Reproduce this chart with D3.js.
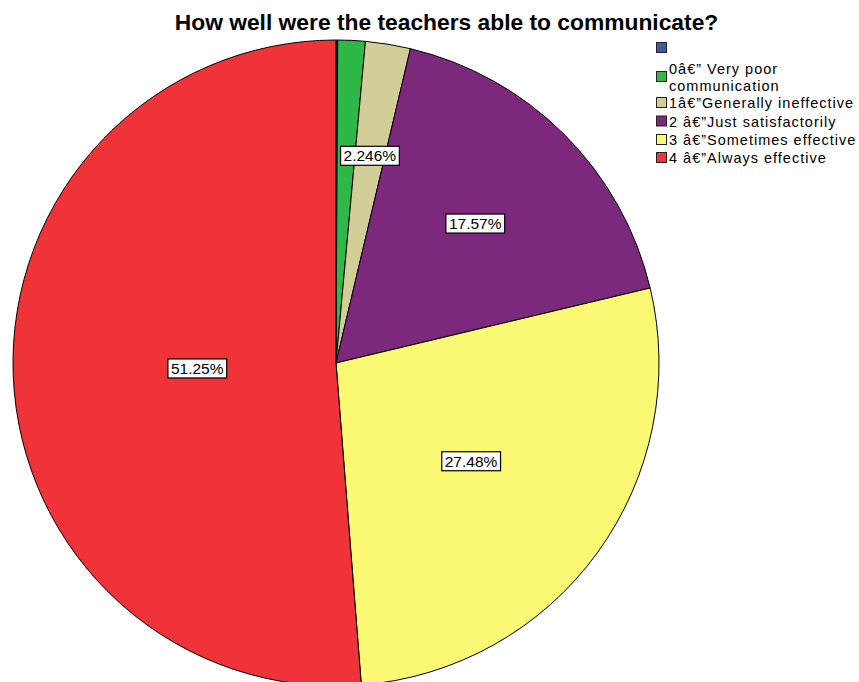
<!DOCTYPE html>
<html><head><meta charset="utf-8">
<script src="https://cdn.jsdelivr.net/npm/d3@7"></script>
<style>body{margin:0;background:#fff;} svg{display:block;}</style>
</head><body>
<script>
const categories = ["", "0â€\u201D Very poor communication", "1â€\u201DGenerally ineffective", "2 â€\u201DJust satisfactorily", "3 â€\u201DSometimes effective", "4 â€\u201DAlways effective"];
const percents = [0.084, 1.37, 2.246, 17.57, 27.48, 51.25];
const shownLabels = ["", "", "2.246%", "17.57%", "27.48%", "51.25%"];
const colors = ["#3E58AC", "#2EB848", "#D3CE97", "#7C287D", "#FBF873", "#EF3338"];
const title = "How well were the teachers able to communicate?";

const W = 859, H = 682;
const cx = 336, cy = 363, R = 323;
const labelRadiusFactor = [0, 0, 0.65, 0.61, 0.517, 0.43];
const FONT = "Liberation Sans, Arial, sans-serif";

const svg = d3.select("body").append("svg").attr("width", W).attr("height", H);

svg.append("text").attr("x", 446.5).attr("y", 30).attr("text-anchor", "middle")
  .attr("font-family", FONT).attr("font-weight", "bold")
  .attr("font-size", 22.8).attr("fill", "#000").text(title);

const pie = d3.pie().sort(null).value(d => d)(percents);
const arc = d3.arc().innerRadius(0).outerRadius(R);
const g = svg.append("g").attr("transform", `translate(${cx},${cy})`);
g.selectAll("path").data(pie).enter().append("path")
  .attr("d", arc).attr("fill", (d, i) => colors[i])
  .attr("stroke", "#000").attr("stroke-width", 1).attr("stroke-linejoin", "round");

pie.forEach((d, i) => {
  if (!shownLabels[i]) return;
  const a = (d.startAngle + d.endAngle) / 2;
  const r = R * labelRadiusFactor[i];
  const x = r * Math.sin(a), y = -r * Math.cos(a);
  const t = g.append("text").attr("x", x).attr("y", y).attr("text-anchor", "middle")
    .attr("dominant-baseline", "central")
    .attr("font-family", FONT).attr("font-size", 15.5)
    .text(shownLabels[i]);
  const bb = t.node().getBBox();
  g.insert("rect", "text").attr("x", bb.x - 3).attr("y", bb.y - 1)
    .attr("width", bb.width + 6).attr("height", bb.height + 2)
    .attr("fill", "#fff").attr("stroke", "#000").attr("stroke-width", 1.2);
  t.raise();
});

// legend
const lg = svg.append("g");
const rowY = [48, 77, 103, 121.5, 140, 158];
categories.forEach((c, i) => {
  lg.append("rect").attr("x", 656.5).attr("y", rowY[i] - 5.5).attr("width", 10).attr("height", 10)
    .attr("fill", colors[i]).attr("stroke", "#222").attr("stroke-width", 1);
  const t = lg.append("text").attr("x", 669).attr("y", rowY[i] + 5)
      .attr("font-family", FONT).attr("font-size", 14.5).attr("letter-spacing", 1.0);
  if (i === 1) {
    t.attr("y", rowY[i] - 3);
    t.append("tspan").attr("x", 669).attr("dy", 0).text("0â€\u201D Very poor");
    t.append("tspan").attr("x", 669).attr("dy", 16.5).text("communication");
  } else {
    t.text(c);
  }
});
</script>
</body></html>
